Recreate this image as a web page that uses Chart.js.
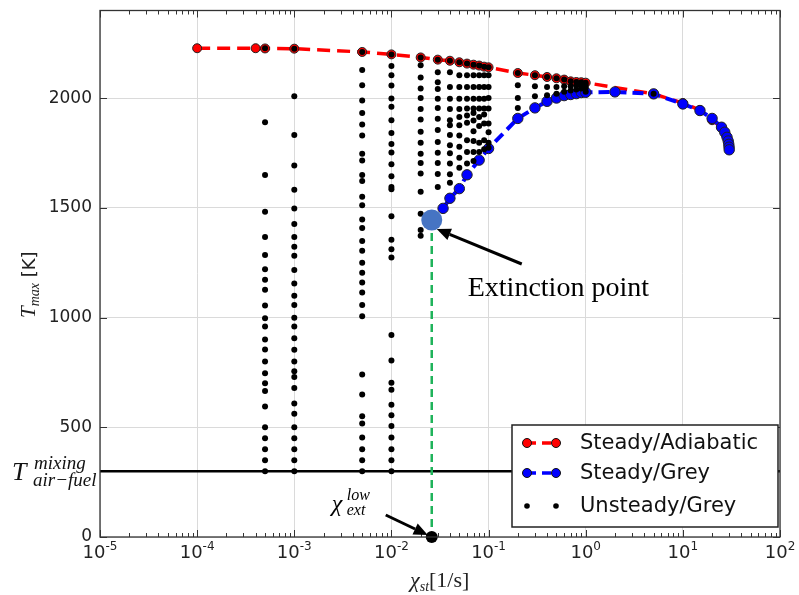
<!DOCTYPE html>
<html>
<head>
<meta charset="utf-8">
<script src="https://cdn.jsdelivr.net/npm/chart.js@4.4.1/dist/chart.umd.min.js"></script>
<style>
  html, body { margin: 0; padding: 0; background: #fff; }
</style>
</head>
<body>
<canvas id="tmaxChart" width="799" height="595"></canvas>
<script>
const xTicks = [1e-5, 1e-4, 1e-3, 1e-2, 1e-1, 1e0, 1e1, 1e2];
const xExponents = ['-5', '-4', '-3', '-2', '-1', '0', '1', '2'];
const yTicks = [0, 500, 1000, 1500, 2000];

// steady flamelets, adiabatic
const adiabaticChi = [1e-4, 4e-4, 5e-4, 1e-3, 5e-3, 1e-2, 0.02, 0.03, 0.04, 0.05, 0.06, 0.07, 0.08, 0.09, 0.1,
  0.2, 0.3, 0.4, 0.5, 0.6, 0.7, 0.8, 0.9, 1.0, 5, 10, 15, 20, 25, 28, 30];
const adiabaticT = [2228, 2228, 2227, 2226, 2211, 2200, 2186, 2176, 2171, 2164, 2158, 2153, 2149, 2144, 2141,
  2115, 2105, 2097, 2091, 2085, 2077, 2074, 2073, 2071, 2020, 1978, 1946, 1900, 1868, 1830, 1780];

// steady flamelets, grey radiation
const greyChi = [0.034, 0.04, 0.05, 0.06, 0.08, 0.1, 0.2, 0.3, 0.4, 0.5, 0.6, 0.7, 0.8, 0.9, 1.0,
  2, 5, 10, 15, 20, 25, 27, 28.5, 29.3, 29.7, 29.9, 30];
const greyT = [1498, 1544, 1588, 1651, 1718, 1771, 1908, 1956, 1986, 2001, 2012, 2017, 2021, 2026, 2027,
  2029, 2020, 1974, 1944, 1908, 1868, 1845, 1822, 1805, 1790, 1777, 1765];

// unsteady grey runs, one column of Tmax per strain rate
const unsteadyChi = [5e-4, 1e-3, 5e-3, 1e-2, 0.02, 0.03, 0.04, 0.05, 0.06, 0.07, 0.08, 0.09, 0.1,
  0.2, 0.3, 0.4, 0.5, 0.6, 0.7, 0.8, 0.9, 1.0, 5];
const unsteadyT = [
  [2228, 1891, 1650, 1483, 1368, 1286, 1221, 1173, 1127, 1055, 997, 960, 900, 855, 800, 747, 701, 665, 595, 500, 450, 400, 350, 300],
  [2226, 2009, 1832, 1694, 1583, 1497, 1427, 1368, 1323, 1282, 1217, 1155, 1100, 1058, 1000, 960, 906, 853, 800, 755, 729, 679, 608, 562, 500, 450, 400, 350, 300],
  [2211, 2129, 2059, 1990, 1933, 1880, 1830, 1747, 1716, 1650, 1623, 1551, 1512, 1447, 1409, 1349, 1305, 1250, 1205, 1160, 1115, 1058, 1006, 741, 650, 550, 517, 453, 400, 350, 300],
  [2200, 2147, 2105, 2058, 1999, 1961, 1900, 1842, 1792, 1753, 1699, 1645, 1595, 1585, 1462, 1355, 1312, 1274, 921, 805, 703, 671, 603, 555, 506, 453, 400, 350, 300],
  [2186, 2150, 2095, 2044, 2001, 1951, 1903, 1847, 1797, 1747, 1705, 1657, 1574, 1474, 1400, 1373],
  [2176, 2119, 2073, 2042, 1998, 1956, 1907, 1855, 1801, 1751, 1705, 1655, 1595],
  [2171, 2119, 2051, 1998, 1951, 1900, 1877, 1832, 1786, 1749, 1703, 1653, 1615],
  [2164, 2105, 2051, 1998, 1951, 1914, 1877, 1830, 1779, 1729, 1683],
  [2158, 2105, 2051, 1998, 1953, 1921, 1888, 1809, 1755, 1703],
  [2153, 2105, 2051, 1998, 1953, 1933, 1899, 1850, 1805, 1755, 1714],
  [2149, 2105, 2051, 1998, 1953, 1915, 1873, 1797, 1755],
  [2144, 2105, 2051, 1998, 1953, 1926, 1885, 1808, 1767],
  [2141, 2105, 2051, 2001, 1953, 1885, 1845, 1797, 1774],
  [2115, 2059, 2001, 1956],
  [2105, 2055, 2009],
  [2097, 2051, 2014],
  [2091, 2051, 2021],
  [2085, 2055, 2030],
  [2077, 2055, 2035],
  [2074, 2058, 2040],
  [2073, 2060, 2045],
  [2071, 2060, 2048, 2030],
  [2020]
];

const tMixing = 300;
const chiExtLow = 0.026;
const tExt = 1445;

const legendItems = ['Steady/Adiabatic', 'Steady/Grey', 'Unsteady/Grey'];

const toPts = (xs, ys) => xs.map((x, i) => ({ x: x, y: ys[i] }));
const unsteadyPts = unsteadyChi.flatMap((c, i) => unsteadyT[i].map(t => ({ x: c, y: t })));

const SERIF = "'Liberation Serif', 'DejaVu Serif', serif";
const SANS = "'DejaVu Sans', sans-serif";

// draws consecutive pieces of text: [text, font, dy]
function runText(ctx, x, y, parts) {
  let cx = x;
  parts.forEach(([t, font, dy]) => {
    ctx.font = font;
    ctx.fillText(t, cx, y + (dy || 0));
    cx += ctx.measureText(t).width;
  });
  return cx;
}

function arrow(ctx, x0, y0, x1, y1) {
  const a = Math.atan2(y1 - y0, x1 - x0);
  const hl = 14, hw = 6;
  const bx = x1 - hl * Math.cos(a), by = y1 - hl * Math.sin(a);
  ctx.lineWidth = 3;
  ctx.beginPath();
  ctx.moveTo(x0, y0);
  ctx.lineTo(bx, by);
  ctx.stroke();
  ctx.beginPath();
  ctx.moveTo(x1, y1);
  ctx.lineTo(bx + hw * Math.sin(a), by - hw * Math.cos(a));
  ctx.lineTo(bx - hw * Math.sin(a), by + hw * Math.cos(a));
  ctx.closePath();
  ctx.fill();
}

function marker(ctx, x, y, r, fill, stroke) {
  ctx.beginPath();
  ctx.arc(x, y, r, 0, Math.PI * 2);
  ctx.fillStyle = fill;
  ctx.fill();
  if (stroke) {
    ctx.lineWidth = 1;
    ctx.strokeStyle = stroke;
    ctx.stroke();
  }
}

const decor = {
  id: 'decor',
  afterDraw(chart) {
    const ctx = chart.ctx;
    const { left, right, top, bottom } = chart.chartArea;
    const xs = chart.scales.x, ys = chart.scales.y;
    ctx.save();

    // frame
    ctx.strokeStyle = '#333';
    ctx.lineWidth = 1.3;
    ctx.strokeRect(left, top, right - left, bottom - top);

    // inward ticks
    ctx.lineWidth = 1;
    ctx.beginPath();
    xTicks.forEach(v => {
      const px = Math.round(xs.getPixelForValue(v)) + 0.5;
      ctx.moveTo(px, bottom); ctx.lineTo(px, bottom - 7);
      ctx.moveTo(px, top); ctx.lineTo(px, top + 7);
    });
    for (let e = -5; e < 2; e++) {
      for (let k = 2; k <= 9; k++) {
        const px = Math.round(xs.getPixelForValue(k * Math.pow(10, e))) + 0.5;
        ctx.moveTo(px, bottom); ctx.lineTo(px, bottom - 4);
        ctx.moveTo(px, top); ctx.lineTo(px, top + 4);
      }
    }
    yTicks.forEach(v => {
      const py = Math.round(ys.getPixelForValue(v)) + 0.5;
      ctx.moveTo(left, py); ctx.lineTo(left + 7, py);
      ctx.moveTo(right, py); ctx.lineTo(right - 7, py);
    });
    ctx.stroke();

    // x tick labels 10^n
    ctx.fillStyle = '#222';
    ctx.textBaseline = 'alphabetic';
    ctx.textAlign = 'left';
    xTicks.forEach((v, i) => {
      const px = xs.getPixelForValue(v);
      ctx.font = '18px ' + SANS;
      const w1 = ctx.measureText('10').width;
      ctx.font = '12px ' + SANS;
      const w2 = ctx.measureText(xExponents[i]).width;
      const x0 = px - (w1 + w2) / 2;
      runText(ctx, x0, 558, [['10', '18px ' + SANS, 0], [xExponents[i], '12px ' + SANS, -8]]);
    });

    // axis titles
    ctx.fillStyle = '#222';
    runText(ctx, 410, 587, [
      ['\u03C7', 'italic 22px ' + SERIF, 0],
      ['st', 'italic 14px ' + SERIF, 4],
      ['[1/s]', '22px ' + SERIF, 0]
    ]);
    ctx.save();
    ctx.translate(35, 318);
    ctx.rotate(-Math.PI / 2);
    runText(ctx, 0, 0, [
      ['T', 'italic 21px ' + SERIF, 0],
      ['max', 'italic 14px ' + SERIF, 4],
      [' [K]', '18px ' + SANS, 0]
    ]);
    ctx.restore();

    // mixing temperature label
    ctx.fillStyle = '#111';
    ctx.font = 'italic 26px ' + SERIF;
    ctx.fillText('T', 12, 480);
    ctx.font = 'italic 19px ' + SERIF;
    ctx.fillText('mixing', 34, 469);
    ctx.fillText('air\u2212fuel', 33, 486);

    // extinction annotations
    ctx.fillStyle = '#000';
    ctx.strokeStyle = '#000';
    const px = xs.getPixelForValue(chiExtLow), py = ys.getPixelForValue(tExt);
    const bx = px, by = ys.getPixelForValue(0);
    arrow(ctx, px + 90, py + 44, px + 5, py + 9);
    ctx.font = '28px ' + SERIF;
    ctx.fillText('Extinction point', px + 36, py + 76);
    arrow(ctx, bx - 46, by - 22, bx - 4, by - 2);
    ctx.font = 'italic 24px ' + SERIF;
    ctx.fillText('\u03C7', bx - 100, by - 26);
    ctx.font = 'italic 16px ' + SERIF;
    ctx.fillText('low', bx - 85, by - 37);
    ctx.fillText('ext', bx - 85, by - 22);

    // legend
    const lx = 512, ly = 425, lw = 266, lh = 102;
    ctx.fillStyle = '#fff';
    ctx.fillRect(lx, ly, lw, lh);
    ctx.strokeStyle = '#222';
    ctx.lineWidth = 1.5;
    ctx.strokeRect(lx, ly, lw, lh);
    const rows = [443, 473, 506];
    const styles = [
      { color: '#ff0000', r: 4.5, line: true },
      { color: '#0000ff', r: 4.5, line: true },
      { color: '#000000', r: 2.8, line: false }
    ];
    rows.forEach((ry, i) => {
      const s = styles[i];
      if (s.line) {
        ctx.strokeStyle = s.color;
        ctx.lineWidth = 3.5;
        ctx.setLineDash([9, 6]);
        ctx.beginPath();
        ctx.moveTo(527, ry);
        ctx.lineTo(557, ry);
        ctx.stroke();
        ctx.setLineDash([]);
      }
      marker(ctx, 527, ry, s.r, s.color, s.line ? '#111' : null);
      marker(ctx, 556, ry, s.r, s.color, s.line ? '#111' : null);
      ctx.fillStyle = '#111';
      ctx.font = '21px ' + SANS;
      ctx.textBaseline = 'middle';
      ctx.fillText(legendItems[i], 580, ry + 1);
      ctx.textBaseline = 'alphabetic';
    });

    ctx.restore();
  }
};

const ctx = document.getElementById('tmaxChart').getContext('2d');
const tmaxChart = new Chart(ctx, {
  type: 'scatter',
  data: {
    datasets: [
      {
        label: 'mixing',
        data: [{ x: 1e-5, y: tMixing }, { x: 1e2, y: tMixing }],
        showLine: true,
        borderColor: '#000',
        borderWidth: 2.5,
        pointRadius: 0,
        order: 6
      },
      {
        label: legendItems[0],
        data: toPts(adiabaticChi, adiabaticT),
        showLine: true,
        borderColor: '#ff0000',
        borderWidth: 3.5,
        borderDash: [13, 7],
        pointRadius: 4.5,
        pointBackgroundColor: '#ff0000',
        pointBorderColor: '#222',
        pointBorderWidth: 1,
        order: 5
      },
      {
        label: legendItems[1],
        data: toPts(greyChi, greyT),
        showLine: true,
        borderColor: '#0000ff',
        borderWidth: 4,
        borderDash: [11, 6],
        pointRadius: 5.2,
        pointBackgroundColor: '#0000ff',
        pointBorderColor: '#222',
        pointBorderWidth: 1,
        order: 4
      },
      {
        label: 'chi_ext',
        data: [{ x: chiExtLow, y: tExt }, { x: chiExtLow, y: 0 }],
        showLine: true,
        borderColor: '#1fb35a',
        borderWidth: 2.5,
        borderDash: [8, 5],
        pointRadius: 0,
        order: 3
      },
      {
        label: legendItems[2],
        data: unsteadyPts,
        pointRadius: 3,
        pointBackgroundColor: '#000',
        pointBorderWidth: 0,
        order: 2
      },
      {
        label: 'extinction',
        data: [{ x: chiExtLow, y: tExt }],
        pointRadius: 10.5,
        pointBackgroundColor: '#4674c3',
        pointBorderWidth: 0,
        order: 1
      },
      {
        label: 'chi_ext_low',
        data: [{ x: chiExtLow, y: 0 }],
        pointRadius: 6,
        pointBackgroundColor: '#000',
        pointBorderWidth: 0,
        clip: false,
        order: 0
      }
    ]
  },
  options: {
    responsive: false,
    animation: false,
    devicePixelRatio: 1,
    layout: { padding: { top: 9, right: 19, left: 0, bottom: 0 } },
    plugins: {
      legend: { display: false },
      tooltip: { enabled: false }
    },
    scales: {
      x: {
        type: 'logarithmic',
        min: 1e-5,
        max: 1e2,
        afterBuildTicks: s => { s.ticks = xTicks.map(v => ({ value: v, major: true })); },
        afterFit: s => { s.height = 58; s.paddingLeft = 0; s.paddingRight = 0; },
        ticks: { display: false },
        grid: { color: '#dadada', lineWidth: 1, drawTicks: false },
        border: { display: false }
      },
      y: {
        type: 'linear',
        min: 0,
        max: 2400,
        afterBuildTicks: s => { s.ticks = yTicks.map(v => ({ value: v })); },
        afterFit: s => { s.width = 100; s.paddingTop = 0; s.paddingBottom = 0; },
        ticks: {
          font: { family: 'DejaVu Sans', size: 17 },
          color: '#222',
          padding: 8,
          callback: value => String(value)
        },
        grid: { color: '#dadada', lineWidth: 1, drawTicks: false },
        border: { display: false }
      }
    }
  },
  plugins: [decor]
});
</script>
</body>
</html>
